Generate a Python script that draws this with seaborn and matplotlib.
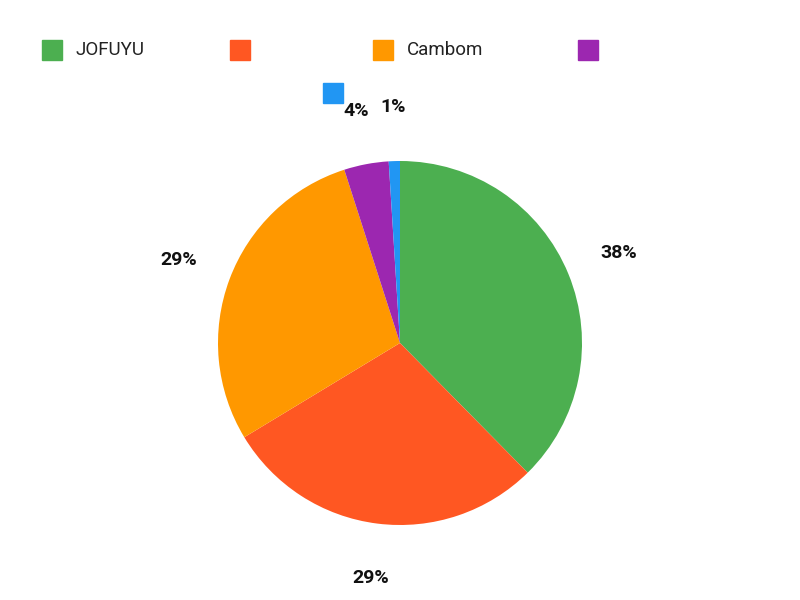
import matplotlib
matplotlib.use("Agg")
import matplotlib.pyplot as plt
import seaborn as sns
from matplotlib.patches import Rectangle

sns.set_theme(style="white")
plt.rcParams['font.family'] = ['Roboto', 'DejaVu Sans']

labels = ["JOFUYU", "", "Cambom", "", ""]
values = [38, 29, 29, 4, 1]
colors = ["#4caf50", "#ff5722", "#ff9800", "#9c27b0", "#2196f3"]

fig = plt.figure(figsize=(8, 6), dpi=100)
ax = fig.add_axes([218/800, 75/600, 364/800, 364/600])
ax.pie(values, colors=colors, startangle=90, counterclock=False,
       autopct=lambda p: f"{p:.0f}%", pctdistance=1.3,
       wedgeprops=dict(linewidth=0),
       textprops=dict(fontsize=14, fontweight="bold", color="#111111"))
ax.set_xlim(-1, 1)
ax.set_ylim(-1, 1)
ax.set_aspect("equal")
ax.axis("off")

pos = [(42, 40), (230, 40), (373, 40), (578, 40), (323, 83)]
for (x, y), lab, c in zip(pos, labels, colors):
    fig.patches.append(Rectangle((x/800, 1-(y+20)/600), 20/800, 20/600,
                                 transform=fig.transFigure, color=c))
    if lab:
        fig.text((x+34)/800, 1-(y+10)/600, lab, va="center", ha="left",
                 fontsize=13.5, color="#222222")

fig.savefig("out.png")
